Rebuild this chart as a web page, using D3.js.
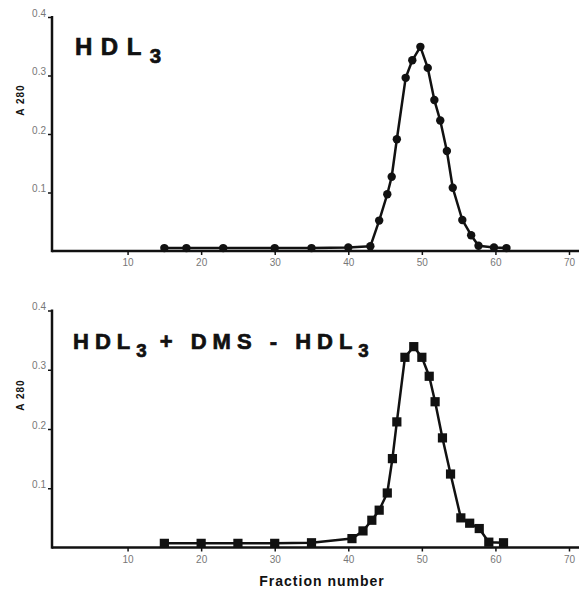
<!DOCTYPE html>
<html><head><meta charset="utf-8">
<script src="https://cdn.jsdelivr.net/npm/d3@7"></script>
<style>
html,body{margin:0;padding:0;background:#fff;}
svg{display:block;}
.tick text{fill:#777;font-family:"Liberation Sans",Arial,sans-serif;font-size:10px;}
</style></head>
<body>
<script>
const xTicks = [10, 20, 30, 40, 50, 60, 70];
const yTicks = [0.1, 0.2, 0.3, 0.4];
const yTickLabels = ["0.1", "0.2", "0.3", "0.4"];

const fracTop = [15, 18, 23, 30, 35, 40, 43, 44.2, 45.3, 45.9, 46.6, 47.8, 48.7, 49.8, 50.8, 51.7, 52.5, 53.4, 54.2, 55.5, 56.7, 57.7, 59.8, 61.5];
const a280Top = [0.005, 0.005, 0.005, 0.005, 0.005, 0.006, 0.008, 0.052, 0.097, 0.127, 0.191, 0.296, 0.326, 0.349, 0.313, 0.258, 0.223, 0.171, 0.108, 0.053, 0.027, 0.009, 0.006, 0.005];

const fracBottom = [15, 20, 25, 30, 35, 40.5, 42, 43.2, 44.2, 45.3, 46, 46.6, 47.7, 48.9, 50, 51, 51.8, 52.8, 53.9, 55.3, 56.5, 57.8, 59.1, 61.1];
const a280Bottom = [0.007, 0.007, 0.007, 0.007, 0.008, 0.015, 0.028, 0.046, 0.063, 0.092, 0.150, 0.212, 0.321, 0.339, 0.321, 0.289, 0.246, 0.185, 0.124, 0.050, 0.041, 0.032, 0.009, 0.008];

const W = 579, H = 590;
const svg = d3.select("body").append("svg").attr("width", W).attr("height", H);
const FONT = '"Liberation Sans",Arial,sans-serif';

const x = d3.scaleLinear().domain([0, 70]).range([54, 569]);

function panel(yTop, yBottom, fr, vals, marker, titleParts, titleX, titleY, ls, sz) {
  const y = d3.scaleLinear().domain([0, 0.4]).range([yBottom, yTop]);
  const g = svg.append("g");

  const xa = g.append("g").attr("transform", `translate(0,${yBottom})`)
    .call(d3.axisBottom(x).tickValues(xTicks).tickSize(4).tickPadding(4).tickSizeOuter(0));
  xa.select(".domain").remove();
  xa.selectAll(".tick line").attr("stroke", "#111").attr("stroke-width", 1.5);
  g.append("line").attr("x1", 52).attr("x2", W).attr("y1", yBottom).attr("y2", yBottom)
    .attr("stroke", "#111").attr("stroke-width", 2.5);

  const ya = g.append("g").attr("transform", `translate(52,0)`)
    .call(d3.axisLeft(y).tickValues(yTicks).tickFormat((d, i) => yTickLabels[i]).tickSize(4).tickPadding(2));
  ya.select(".domain").remove();
  ya.selectAll(".tick line").attr("stroke", "#111").attr("stroke-width", 1.5);
  ya.selectAll(".tick text").attr("dy", "-0.1em");
  g.append("line").attr("x1", 52).attr("x2", 52).attr("y1", yTop - 1).attr("y2", yBottom + 1.2)
    .attr("stroke", "#111").attr("stroke-width", 2.5);

  g.append("text").attr("transform", `translate(24,${(yTop + yBottom) / 2 - 34}) rotate(-90)`)
    .attr("text-anchor", "middle").attr("font-family", FONT).attr("font-weight", "bold")
    .attr("font-size", 10).attr("fill", "#111").attr("letter-spacing", 1).text("A 280");

  const data = fr.map((f, i) => [f, vals[i]]);
  g.append("path").datum(data)
    .attr("d", d3.line().x(d => x(d[0])).y(d => y(d[1])))
    .attr("fill", "none").attr("stroke", "#111").attr("stroke-width", 2.5).attr("stroke-linejoin", "round");

  if (marker === "circle") {
    g.selectAll("circle.pt").data(data).join("circle").attr("class", "pt")
      .attr("cx", d => x(d[0])).attr("cy", d => y(d[1])).attr("r", 4.2).attr("fill", "#111");
  } else {
    g.selectAll("rect.pt").data(data).join("rect").attr("class", "pt")
      .attr("x", d => x(d[0]) - 4.6).attr("y", d => y(d[1]) - 4.6)
      .attr("width", 9.2).attr("height", 9.2).attr("fill", "#111");
  }

  const t = g.append("text").attr("x", titleX).attr("y", titleY)
    .attr("font-family", FONT).attr("font-weight", "bold").attr("font-size", sz)
    .attr("fill", "#111").attr("stroke", "#111").attr("stroke-width", 0.7)
    .attr("letter-spacing", ls);
  titleParts.forEach(p => {
    const ts = t.append("tspan").text(p.t);
    if (p.sub) ts.attr("font-size", sz * 0.85).attr("dy", 8).attr("letter-spacing", 1);
    if (p.up) ts.attr("dy", -8);
  });
}

panel(17, 251, fracTop, a280Top, "circle",
  [{t: "HDL"}, {t: "3", sub: true}], 75, 55, 8.5, 24);

panel(310.5, 547.5, fracBottom, a280Bottom, "square",
  [{t: "HDL"}, {t: "3", sub: true}, {t: " + DMS - HDL", up: true}, {t: "3", sub: true}], 73, 348.5, 6, 22);

svg.append("text").attr("x", 322).attr("y", 586).attr("text-anchor", "middle")
  .attr("font-family", FONT).attr("font-weight", "bold").attr("font-size", 14)
  .attr("fill", "#111").attr("letter-spacing", 1).text("Fraction number");
</script>
</body></html>
